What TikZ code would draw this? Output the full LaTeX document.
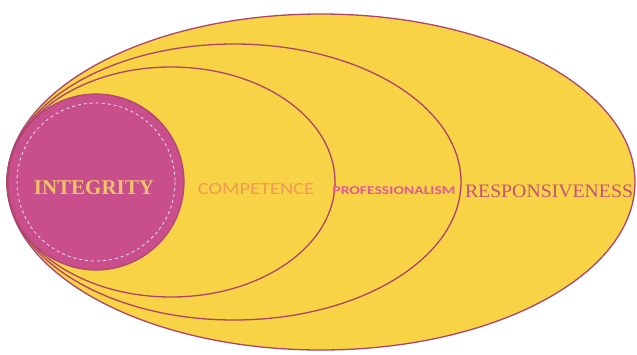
\documentclass[tikz,border=0pt]{standalone}
\usepackage{fontspec}
\setmainfont{Liberation Serif}
\newfontfamily\carlitofont{Carlito}
\definecolor{fillyellow}{HTML}{F8D345}
\definecolor{pinkfill}{HTML}{C84F8C}
\definecolor{ringcol}{HTML}{AC446C}
\definecolor{integcol}{HTML}{F2C26B}
\definecolor{compcol}{HTML}{EF9A52}
\definecolor{profcol}{HTML}{DF5A98}
\definecolor{respcol}{HTML}{C4527A}
\tikzset{
  ring/.style={draw=ringcol, line width=1.3pt},
  lbl/.style={inner sep=0pt, anchor=center}
}
\begin{document}
\begin{tikzpicture}[x=1pt,y=-1pt]
\useasboundingbox (0,0) rectangle (637,354);
\fill[white] (0,0) rectangle (637,354);
% nested ovals
\draw[ring, fill=fillyellow] (321,182) ellipse [x radius=314, y radius=168];
\draw[ring] (234,182) ellipse [x radius=227, y radius=138];
\draw[ring] (171,182) ellipse [x radius=164, y radius=115];
\draw[draw=ringcol!80!pinkfill, line width=1.2pt, fill=pinkfill] (96,182) circle [radius=88];
\draw[white!85!pinkfill, dashed, line width=0.8pt] (96,182) circle [radius=79];
% labels
\node[lbl, text=integcol, font=\bfseries\fontsize{21}{21}\selectfont] (integrity) at (94,188) {INTEGRITY};
\node[lbl, text=compcol, font=\carlitofont\fontsize{17}{17}\selectfont] (competence) at (256,189) {\scalebox{1.2}[1]{COMPETENCE}};
\node[lbl, text=profcol, font=\carlitofont\bfseries\fontsize{12}{12}\selectfont] (professionalism) at (394,191) {\scalebox{1.3}[1]{PROFESSIONALISM}};
\node[lbl, text=respcol, font=\fontsize{19}{19}\selectfont] (responsiveness) at (549,191) {\scalebox{1.04}[1]{RESPONSIVENESS}};
\end{tikzpicture}
\end{document}
